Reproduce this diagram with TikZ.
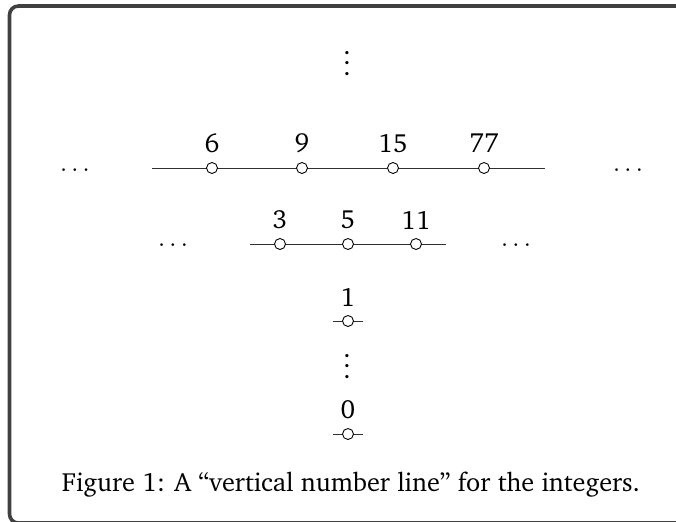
\documentclass[tikz,border=0pt]{standalone}
\usepackage[T1]{fontenc}
\usepackage{charter}
\usetikzlibrary{positioning}
\definecolor{framegray}{HTML}{404040}
\definecolor{linegray}{HTML}{303030}

\begin{document}
\begin{tikzpicture}[
  x=0.392pt, y=-0.392pt,
  font=\fontsize{10.3}{12.4}\selectfont,
  numpt/.style={circle, draw, fill=white, inner sep=0pt, minimum size=4.3pt,
    line width=0.35pt, label distance=0.6pt},
  seg/.style={line width=0.3pt, draw=linegray},
  frame/.style={draw=framegray, line width=1.4pt, rounded corners=3.5pt},
]
\useasboundingbox (0,0) rectangle (676,521);
\clip (0,0) rectangle (676,521);
\draw[frame] (9.5,6) rectangle (720,523);

% top
\node (vtop) at (347,56) {$\vdots$};

% row of 6, 9, 15, 77
\coordinate (rAw) at (152,168);
\coordinate (rAe) at (545,168);
\draw[seg] (rAw) -- (rAe);
\node[numpt, label=above:6] (n6) at (212,168) {};
\node[numpt, label=above:9] (n9) at (302,168) {};
\node[numpt, label=above:15] (n15) at (393,168) {};
\node[numpt, label=above:77] (n77) at (484,168) {};
\node (rAl) at (75,171) {$\cdots$};
\node (rAr) at (628,171) {$\cdots$};

% row of primes
\coordinate (rBw) at (250,244);
\coordinate (rBe) at (446,244);
\draw[seg] (rBw) -- (rBe);
\node[numpt, label=above:3] (n3) at (280,244) {};
\node[numpt, label=above:5] (n5) at (348,244) {};
\node[numpt, label=above:11] (n11) at (416,244) {};
\node (rBl) at (173,246) {$\cdots$};
\node (rBr) at (516,246) {$\cdots$};

% unit
\coordinate (rCw) at (333,321);
\coordinate (rCe) at (363,321);
\draw[seg] (rCw) -- (rCe);
\node[numpt, label=above:1] (n1) at (348,321) {};

\node (vmid) at (347,359) {$\vdots$};

% zero
\coordinate (rDw) at (333,434);
\coordinate (rDe) at (363,434);
\draw[seg] (rDw) -- (rDe);
\node[numpt, label=above:0] (n0) at (348,434) {};

\node (cap) at (351,485) {Figure 1: A ``vertical number line'' for the integers.};
\end{tikzpicture}
\end{document}
